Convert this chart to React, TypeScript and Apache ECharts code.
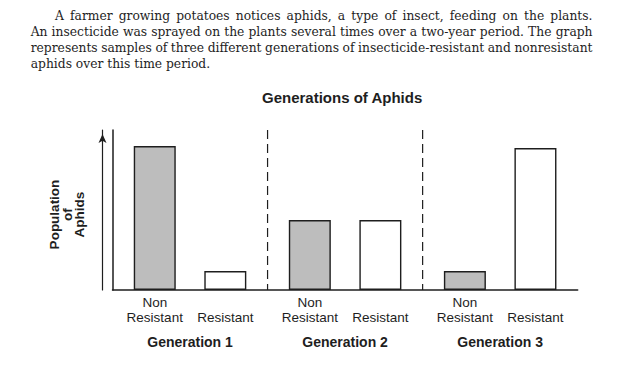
import React, { useEffect, useRef } from 'react';
import * as echarts from 'echarts';

const generations = ['Generation 1', 'Generation 2', 'Generation 3'];
const nonResistant = [7.2, 3.5, 0.95];
const resistant = [0.95, 3.5, 7.1];
const separators = [1, 2];
const yMax = 8;
const titleText = 'Generations of Aphids';
const yLabel = 'Population\nof\nAphids';
const nonResistantLabel = 'Non\nResistant';
const resistantLabel = 'Resistant';
const paragraph = [
  'A farmer growing potatoes notices aphids, a type of insect, feeding on the plants.',
  'An insecticide was sprayed on the plants several times over a two-year period. The graph',
  'represents samples of three different generations of insecticide-resistant and nonresistant',
  'aphids over this time period.',
];

const SANS = '"Liberation Sans", Arial, sans-serif';
const SERIF_FONT = '12.3px "DejaVu Serif"';
const INK = '#1e1e1e';

function buildParagraph(): any[] {
  const canvas = document.createElement('canvas');
  const ctx = canvas.getContext('2d') as CanvasRenderingContext2D;
  ctx.font = SERIF_FONT;
  const lefts = [55, 30.7, 30.7, 30.7];
  const ys = [15.5, 31.8, 48, 64.3];
  const right = 592.5;
  const els: any[] = [];
  paragraph.forEach((line, i) => {
    const justify = i < paragraph.length - 1;
    if (!justify) {
      els.push({
        type: 'text',
        x: lefts[i],
        y: ys[i],
        style: { text: line, font: SERIF_FONT, fill: INK, textAlign: 'left', textVerticalAlign: 'middle' },
      });
      return;
    }
    const words = line.split(' ');
    const widths = words.map((w) => ctx.measureText(w).width);
    const sum = widths.reduce((a, b) => a + b, 0);
    const gap = (right - lefts[i] - sum) / (words.length - 1);
    let x = lefts[i];
    words.forEach((w, j) => {
      els.push({
        type: 'text',
        x,
        y: ys[i],
        style: { text: w, font: SERIF_FONT, fill: INK, textAlign: 'left', textVerticalAlign: 'middle' },
      });
      x += widths[j] + gap;
    });
  });
  return els;
}

export default function App() {
  const ref = useRef<HTMLDivElement>(null);
  useEffect(() => {
    if (!ref.current) return;
    const chart = echarts.init(ref.current, undefined, { renderer: 'svg' });
    const labelBase = {
      show: true,
      position: 'bottom',
      fontFamily: SANS,
      fontSize: 13.5,
      lineHeight: 15,
      color: INK,
    };
    const option: any = {
      animation: false,
      backgroundColor: '#ffffff',
      title: {
        text: titleText,
        left: 262,
        top: 90,
        padding: 0,
        textStyle: { fontFamily: SANS, fontSize: 15, fontWeight: 'bold', color: INK },
      },
      grid: { left: 112.5, right: 45.3, top: 130, bottom: 75, containLabel: false },
      xAxis: {
        type: 'category',
        data: generations,
        axisLine: { show: true, lineStyle: { color: INK, width: 1.5 } },
        axisTick: { show: false },
        splitLine: { show: false },
        axisLabel: { margin: 45, fontFamily: SANS, fontSize: 14, fontWeight: 'bold', color: INK },
      },
      yAxis: [
        {
          type: 'value',
          min: 0,
          max: yMax,
          axisLine: { show: true, lineStyle: { color: INK, width: 1.5 } },
          axisTick: { show: false },
          axisLabel: { show: false },
          splitLine: { show: false },
        },
        {
          type: 'value',
          position: 'left',
          offset: 10,
          min: 0,
          max: yMax,
          axisLine: {
            show: true,
            symbol: ['none', 'arrow'],
            symbolSize: [6, 9],
            symbolOffset: [0, -4],
            lineStyle: { color: INK, width: 1.2 },
          },
          axisTick: { show: false },
          axisLabel: { show: false },
          splitLine: { show: false },
        },
      ],
      graphic: [
        ...buildParagraph(),
        {
          type: 'text',
          x: 67,
          y: 214.5,
          rotation: Math.PI / 2,
          style: {
            text: yLabel,
            font: 'bold 13.5px ' + SANS,
            fill: INK,
            textAlign: 'center',
            textVerticalAlign: 'middle',
            lineHeight: 12.5,
          },
        },
      ],
      series: [
        {
          type: 'bar',
          name: 'Non Resistant',
          data: nonResistant,
          barWidth: 42,
          barGap: '68%',
          itemStyle: { color: '#bdbdbd', borderColor: INK, borderWidth: 1.4 },
          label: { ...labelBase, distance: 5, formatter: nonResistantLabel },
        },
        {
          type: 'bar',
          name: 'Resistant',
          data: resistant,
          barWidth: 42,
          barGap: '68%',
          itemStyle: { color: '#ffffff', borderColor: INK, borderWidth: 1.4 },
          label: { ...labelBase, distance: 20, formatter: resistantLabel },
        },
        {
          type: 'custom',
          silent: true,
          data: separators.map((s) => [s, 0]),
          encode: { x: 0, y: 1 },
          clip: false,
          renderItem: (params: any, api: any) => {
            const base = api.coord([api.value(0), 0]);
            const top = api.coord([api.value(0), yMax]);
            const bw = api.size([1, 0])[0];
            const x = base[0] - bw / 2;
            return {
              type: 'line',
              shape: { x1: x, y1: top[1], x2: x, y2: base[1] },
              style: { stroke: INK, lineWidth: 1.2, lineDash: [9, 5] },
            };
          },
        },
      ],
    };
    chart.setOption(option);
    return () => chart.dispose();
  }, []);
  return (
    <div
      ref={ref}
      style={{ position: 'absolute', left: 0, top: 0, width: 623, height: 365, background: '#fff' }}
    />
  );
}
